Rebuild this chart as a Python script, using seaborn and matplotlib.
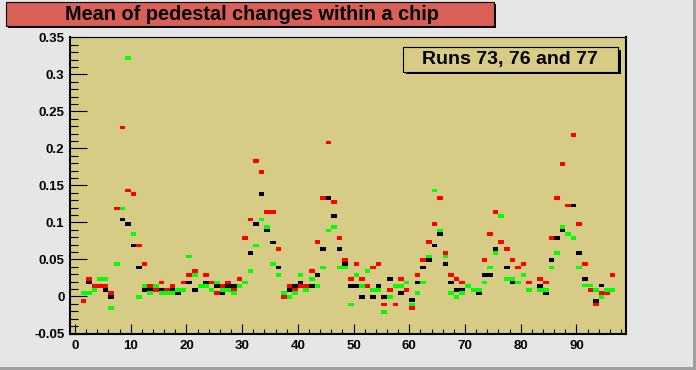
# Mean of pedestal changes within a chip, runs 73, 76 and 77 (ROOT style look).
import numpy as np
import pandas as pd
import seaborn as sns
import matplotlib.pyplot as plt
from matplotlib.patches import Rectangle
from matplotlib.ticker import MultipleLocator, FuncFormatter

plt.rcParams['font.family'] = ['Liberation Sans', 'DejaVu Sans']

# chip numbers (chip 82 has no entry)
chips = list(range(1, 97))

# run 73 (black)
run73 = [0.005, 0.019, 0.014, 0.014, 0.009, -0.001, 0.119, 0.104, 0.098, 0.069,
         0.039, 0.009, 0.009, 0.009, 0.009, 0.009, 0.009, 0.005, 0.009, 0.019,
         0.009, 0.014, 0.019, 0.009, 0.014, 0.005, 0.014, 0.014, 0.014, 0.019,
         0.059, 0.098, 0.138, 0.089, 0.073, 0.039, 0.005, 0.009, 0.014, 0.019,
         0.014, 0.014, 0.029, 0.064, 0.133, 0.109, 0.064, 0.044, 0.014, 0.014,
         -0.001, 0.014, -0.001, 0.014, -0.001, 0.024, 0.014, 0.005, 0.009, -0.005,
         0.019, 0.039, 0.049, 0.069, 0.084, 0.044, 0.019, 0.009, 0.009, 0.014,
         0.009, 0.005, 0.029, 0.029, 0.064, 0.074, 0.039, 0.019, 0.019, 0.029,
         0.009, np.nan, 0.014, 0.005, 0.049, 0.079, 0.089, 0.123, 0.123, 0.059,
         0.024, 0.009, -0.006, 0.015, 0.009, 0.009]

# run 76 (red)
run76 = [-0.006, 0.024, 0.014, 0.014, 0.014, 0.005, 0.119, 0.228, 0.143, 0.138,
         0.069, 0.044, 0.014, 0.009, 0.019, 0.009, 0.014, 0.009, 0.019, 0.029,
         0.034, 0.014, 0.029, 0.019, 0.005, 0.014, 0.019, 0.009, 0.024, 0.079,
         0.104, 0.183, 0.168, 0.114, 0.114, 0.064, -0.001, 0.014, 0.009, 0.014,
         0.014, 0.034, 0.074, 0.133, 0.208, 0.128, 0.079, 0.049, 0.024, 0.044,
         0.024, 0.014, 0.039, 0.044, -0.011, 0.009, -0.011, 0.024, 0.009, -0.016,
         0.029, 0.049, 0.074, 0.098, 0.133, 0.059, 0.029, 0.024, 0.019, 0.014,
         0.009, 0.009, 0.049, 0.084, 0.114, 0.074, 0.064, 0.049, 0.039, 0.044,
         0.019, np.nan, 0.024, 0.019, 0.079, 0.133, 0.179, 0.123, 0.218, 0.098,
         0.044, 0.009, -0.011, 0.005, 0.005, 0.029]

# run 77 (green)
run77 = [0.005, 0.005, 0.009, 0.024, 0.024, -0.016, 0.044, 0.119, 0.322, 0.084,
         -0.001, 0.014, 0.005, 0.014, 0.005, 0.005, 0.005, 0.009, 0.009, 0.054,
         0.029, 0.014, 0.014, 0.009, 0.019, 0.009, 0.009, 0.005, 0.014, 0.019,
         0.034, 0.069, 0.104, 0.094, 0.044, 0.029, 0.005, -0.001, 0.005, 0.029,
         0.009, 0.024, 0.014, 0.039, 0.089, 0.094, 0.039, 0.039, -0.011, 0.029,
         0.014, 0.034, 0.009, 0.009, -0.021, -0.001, 0.014, 0.014, 0.019, -0.011,
         0.005, 0.019, 0.054, 0.143, 0.089, 0.054, 0.005, -0.001, 0.005, 0.014,
         0.009, 0.009, 0.019, 0.039, 0.059, 0.109, 0.024, 0.024, 0.019, 0.029,
         0.009, np.nan, 0.009, 0.009, 0.039, 0.059, 0.094, 0.084, 0.079, 0.039,
         0.015, 0.015, 0.009, -0.001, 0.009, 0.009]

runs = ['73', '76', '77']
colors = ['#000000', '#ff0000', '#00ff00']

# long table, black first so green ends on top
frames = []
for name, vals in zip(runs, [run73, run76, run77]):
    frames.append(pd.DataFrame({'chip': chips, 'value': vals, 'run': name}))
df = pd.concat(frames, ignore_index=True).dropna()
df['x'] = df['chip'] + 0.5  # bin centre

W, H = 696, 370
fig = plt.figure(figsize=(W / 100, H / 100), dpi=100, facecolor='#e6e6e6')
ax = fig.add_axes([70 / W, 1 - 333.5 / H, (626 - 70) / W, (333.5 - 37.3) / H])
ax.set_facecolor('#d6cc86')

box = [(-1.5, -1), (1.5, -1), (1.5, 1), (-1.5, 1)]
sns.scatterplot(data=df, x='x', y='value', hue='run', hue_order=runs,
                palette=colors, marker=box, s=16, linewidth=0,
                legend=False, ax=ax, zorder=3)

ax.set_xlim(-0.9, 98.9)
ax.set_ylim(-0.05, 0.35)
ax.set_xlabel('')
ax.set_ylabel('')

ax.xaxis.set_major_locator(MultipleLocator(10))
ax.xaxis.set_minor_locator(MultipleLocator(2))
ax.yaxis.set_major_locator(MultipleLocator(0.05))
ax.yaxis.set_minor_locator(MultipleLocator(0.01))
ax.yaxis.set_major_formatter(FuncFormatter(lambda v, p: f'{round(v, 3):g}'))

ax.tick_params(axis='y', which='major', direction='in', length=12, width=0.8,
               labelsize=9.5, pad=4)
ax.tick_params(axis='y', which='minor', direction='in', length=5.8, width=0.8)
ax.tick_params(axis='x', which='major', direction='in', length=7.2, width=0.8,
               labelsize=9.5, pad=5)
ax.tick_params(axis='x', which='minor', direction='in', length=3.6, width=0.8)
for lab in ax.get_xticklabels() + ax.get_yticklabels():
    lab.set_fontweight('bold')

for side, lw in [('left', 1.5), ('bottom', 1.5), ('right', 1.5), ('top', 0.8)]:
    ax.spines[side].set_linewidth(lw)
    ax.spines[side].set_color('black')


def px_rect(x0, y0, x1, y1, **kw):
    return Rectangle((x0 / W, 1 - y1 / H), (x1 - x0) / W, (y1 - y0) / H,
                     transform=fig.transFigure, **kw)


# title box with shadow
fig.add_artist(px_rect(8, 4, 496, 28, facecolor='black', linewidth=0))
fig.add_artist(px_rect(6, 2, 494, 26, facecolor='#d95f57', edgecolor='black', linewidth=0.8))
fig.text(252 / W, 1 - 14.5 / H, 'Mean of pedestal changes within a chip',
         ha='center', va='center', fontsize=14.3, fontweight='bold', zorder=5)

# run label box with shadow
fig.add_artist(px_rect(406, 50, 621, 74, facecolor='black', linewidth=0))
fig.add_artist(px_rect(403, 47, 618, 71.5, facecolor='#d6cc86', edgecolor='black', linewidth=0.8))
fig.text(510 / W, 1 - 59.5 / H, 'Runs 73, 76 and 77',
         ha='center', va='center', fontsize=14, fontweight='bold', zorder=5)

# canvas bevel
fig.add_artist(px_rect(692.5, 0, 696, 370, facecolor='#a0a0a0', linewidth=0))
fig.add_artist(px_rect(0, 366.5, 696, 370, facecolor='#a0a0a0', linewidth=0))

fig.savefig('out.png', dpi=100, facecolor=fig.get_facecolor())
